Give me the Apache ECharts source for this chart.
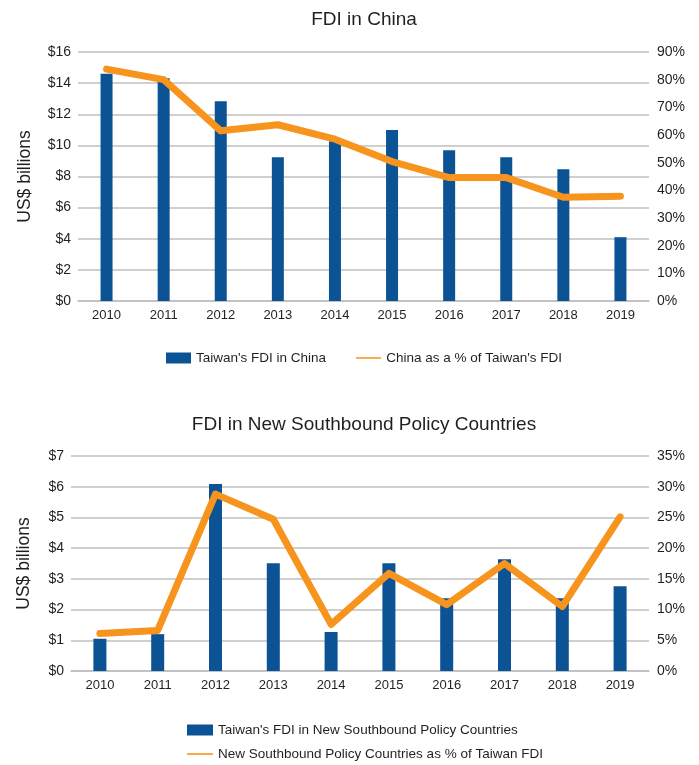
<!DOCTYPE html>
<html>
<head>
<meta charset="utf-8">
<script src="https://cdn.jsdelivr.net/npm/echarts@6/dist/echarts.min.js"></script>
<style>
  html, body { margin: 0; padding: 0; background: #ffffff; }
  #chart { width: 699px; height: 765px; }
</style>
</head>
<body>
<div id="chart"></div>
<script>
// ---- Data ----
const years = ['2010', '2011', '2012', '2013', '2014', '2015', '2016', '2017', '2018', '2019'];
const chinaFdi = [14.6, 14.32, 12.84, 9.24, 10.27, 10.98, 9.69, 9.24, 8.47, 4.1];
const chinaShare = [83.8, 80.0, 61.5, 63.7, 58.5, 50.4, 44.6, 44.6, 37.5, 37.9];
const nsbFdi = [1.05, 1.2, 6.09, 3.51, 1.27, 3.51, 2.37, 3.64, 2.37, 2.76];
const nsbShare = [6.1, 6.6, 28.8, 24.7, 7.6, 15.9, 10.8, 17.5, 10.5, 25.1];

const titles = ['FDI in China', 'FDI in New Southbound Policy Countries'];
const seriesNames = [
  "Taiwan's FDI in China",
  "China as a % of Taiwan's FDI",
  "Taiwan's FDI in New Southbound Policy Countries",
  "New Southbound Policy Countries as % of Taiwan FDI"
];
const yName = 'US$ billions';

// ---- Styles ----
const FONT = "'Liberation Sans Narrow', 'Liberation Sans', Arial, sans-serif";
const TXT = '#231F20';
const BLUE = '#0B5394';
const ORANGE = '#F7941D';
const GRIDC = '#BFBFBF';
const LINE_ICON = 'path://M0,0 L26,0 L26,1.6 L0,1.6 Z';

function leftAxis(gi, max, interval, nameGap) {
  return {
    type: 'value', gridIndex: gi, position: 'left', min: 0, max: max, interval: interval,
    name: yName, nameLocation: 'middle', nameRotate: 90, nameGap: nameGap,
    nameTextStyle: { fontFamily: FONT, fontSize: 17.5, color: TXT },
    axisLine: { show: false }, axisTick: { show: false },
    axisLabel: { fontFamily: FONT, fontSize: 14, color: TXT, margin: 7, formatter: v => '$' + v },
    splitLine: { show: true, lineStyle: { color: GRIDC, width: 1.5 } }
  };
}
function rightAxis(gi, max, interval) {
  return {
    type: 'value', gridIndex: gi, position: 'right', min: 0, max: max, interval: interval,
    axisLine: { show: false }, axisTick: { show: false },
    axisLabel: { fontFamily: FONT, fontSize: 14, color: TXT, margin: 8, formatter: v => v + '%' },
    splitLine: { show: false }
  };
}
function catAxis(gi) {
  return {
    type: 'category', gridIndex: gi, data: years, boundaryGap: true,
    axisLine: { show: true, lineStyle: { color: GRIDC, width: 1.5 } },
    axisTick: { show: false },
    axisLabel: { fontFamily: FONT, fontSize: 13, color: TXT, margin: 8 }
  };
}

const chart = echarts.init(document.getElementById('chart'), null, { renderer: 'canvas' });
chart.setOption({
  backgroundColor: '#ffffff',
  animation: false,
  title: [
    { text: titles[0], left: 364, top: 10, padding: 0, textAlign: 'center',
      textStyle: { fontFamily: FONT, fontSize: 19, fontWeight: 'normal', color: TXT } },
    { text: titles[1], left: 364, top: 415, padding: 0, textAlign: 'center',
      textStyle: { fontFamily: FONT, fontSize: 19, fontWeight: 'normal', color: TXT } }
  ],
  legend: [
    { orient: 'horizontal', left: 166, top: 351, padding: 0, itemWidth: 25, itemHeight: 11, itemGap: 30,
      textStyle: { fontFamily: FONT, fontSize: 13.5, color: TXT },
      data: [
        { name: seriesNames[0], icon: 'rect' },
        { name: seriesNames[1], icon: LINE_ICON }
      ] },
    { orient: 'vertical', left: 187, top: 723, padding: 0, itemWidth: 26, itemHeight: 11, itemGap: 10,
      textStyle: { fontFamily: FONT, fontSize: 13.5, color: TXT },
      data: [
        { name: seriesNames[2], icon: 'rect' },
        { name: seriesNames[3], icon: LINE_ICON }
      ] }
  ],
  grid: [
    { left: 78, right: 50, top: 52, height: 249, containLabel: false },
    { left: 71, right: 50, top: 456, height: 215, containLabel: false }
  ],
  xAxis: [catAxis(0), catAxis(1)],
  yAxis: [leftAxis(0, 16, 2, 44), rightAxis(0, 90, 10), leftAxis(1, 7, 1, 38), rightAxis(1, 35, 5)],
  series: [
    { name: seriesNames[0], type: 'bar', xAxisIndex: 0, yAxisIndex: 0, data: chinaFdi,
      barWidth: 12, itemStyle: { color: BLUE }, z: 2 },
    { name: seriesNames[1], type: 'line', xAxisIndex: 0, yAxisIndex: 1, data: chinaShare,
      showSymbol: false, symbol: 'none', itemStyle: { color: ORANGE },
      lineStyle: { color: ORANGE, width: 7, cap: 'round', join: 'round' }, z: 3 },
    { name: seriesNames[2], type: 'bar', xAxisIndex: 1, yAxisIndex: 2, data: nsbFdi,
      barWidth: 13, itemStyle: { color: BLUE }, z: 2 },
    { name: seriesNames[3], type: 'line', xAxisIndex: 1, yAxisIndex: 3, data: nsbShare,
      showSymbol: false, symbol: 'none', itemStyle: { color: ORANGE },
      lineStyle: { color: ORANGE, width: 7, cap: 'round', join: 'round' }, z: 3 }
  ]
});
</script>
</body>
</html>
